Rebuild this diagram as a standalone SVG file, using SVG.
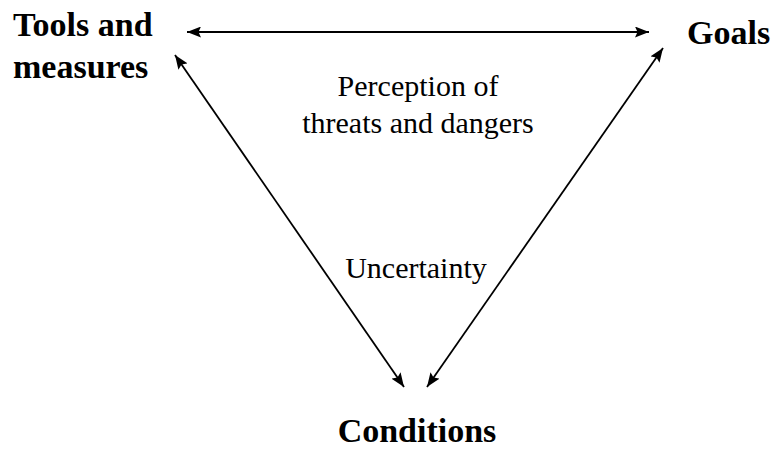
<svg xmlns="http://www.w3.org/2000/svg" width="774" height="449" viewBox="0 0 774 449">
<style>
.lbl{font-family:"Liberation Serif","Times New Roman",serif;font-weight:bold;font-size:34px;fill:#000}
.txt{font-family:"Liberation Serif","Times New Roman",serif;font-size:30px;fill:#000}
.ln{stroke:#000;stroke-width:1.8;fill:none;marker-start:url(#ah);marker-end:url(#ah)}
</style>
<defs>
<marker id="ah" viewBox="0 0 14 11" refX="14" refY="5.5" markerWidth="14" markerHeight="11" markerUnits="userSpaceOnUse" orient="auto-start-reverse">
<path d="M0,0 L14,5.5 L0,11 L2.5,5.5 Z" fill="#000"/>
</marker>
</defs>
<rect width="774" height="449" fill="#fff"/>
<g id="connectors">
<line class="ln" x1="187" y1="32" x2="649" y2="32"/>
<line class="ln" x1="175" y1="55" x2="404" y2="387"/>
<line class="ln" x1="663" y1="48" x2="427" y2="387"/>
</g>
<g id="tools"><text class="lbl" x="13" y="36">Tools and</text><text class="lbl" x="13" y="78">measures</text></g>
<g id="goals"><text class="lbl" x="687" y="44">Goals</text></g>
<g id="conditions"><text class="lbl" x="417" y="442" text-anchor="middle">Conditions</text></g>
<g id="perception"><text class="txt" x="418" y="96" text-anchor="middle">Perception of</text><text class="txt" x="418" y="133" text-anchor="middle">threats and dangers</text></g>
<g id="uncertainty"><text class="txt" x="416" y="278" text-anchor="middle">Uncertainty</text></g>
</svg>
